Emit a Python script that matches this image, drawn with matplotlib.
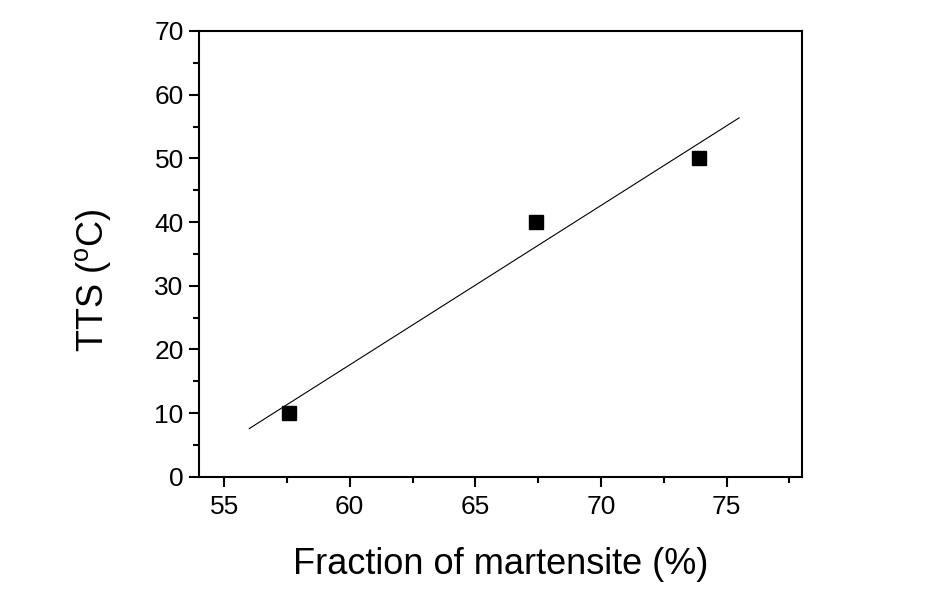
import numpy as np
import matplotlib
matplotlib.use("Agg")
import matplotlib.pyplot as plt
from matplotlib.ticker import MultipleLocator

plt.rcParams['font.family'] = ['Liberation Sans', 'DejaVu Sans']
plt.rcParams['mathtext.fontset'] = 'custom'
plt.rcParams['mathtext.rm'] = 'Liberation Sans'

# martensite fraction (%) and TTS (C)
martensite = [57.6, 67.4, 73.9]
tts = [10, 40, 50]

# linear fit, drawn over this range
fit_range = [56, 75.5]

fig = plt.figure(figsize=(9.29, 6.10), dpi=100)
ax = fig.add_axes([0.2142, 0.2185, 0.649, 0.7307])

ax.plot(martensite, tts, 's', color='black', markersize=10.5)

slope, icpt = np.polyfit(martensite, tts, 1)
xf = np.array(fit_range)
ax.plot(xf, slope * xf + icpt, '-', color='black', lw=0.8)

ax.set_xlim(54, 78)
ax.set_ylim(0, 70)
ax.xaxis.set_major_locator(MultipleLocator(5))
ax.xaxis.set_minor_locator(MultipleLocator(2.5))
ax.yaxis.set_major_locator(MultipleLocator(10))
ax.yaxis.set_minor_locator(MultipleLocator(5))

for s in ax.spines.values():
    s.set_linewidth(1.5)
ax.tick_params(which='both', direction='out', top=False, right=False, width=1.5, labelsize=19)
ax.tick_params(which='major', length=7, pad=4)
ax.tick_params(axis='x', which='major', pad=6)
ax.tick_params(which='minor', length=4)

ax.set_xlabel('Fraction of martensite (%)', fontsize=26, labelpad=20)
ax.set_ylabel('TTS ($\\mathregular{^o}$C)', fontsize=26)
ax.yaxis.set_label_coords(-0.142, 0.44)

fig.savefig('out.png', dpi=100)
